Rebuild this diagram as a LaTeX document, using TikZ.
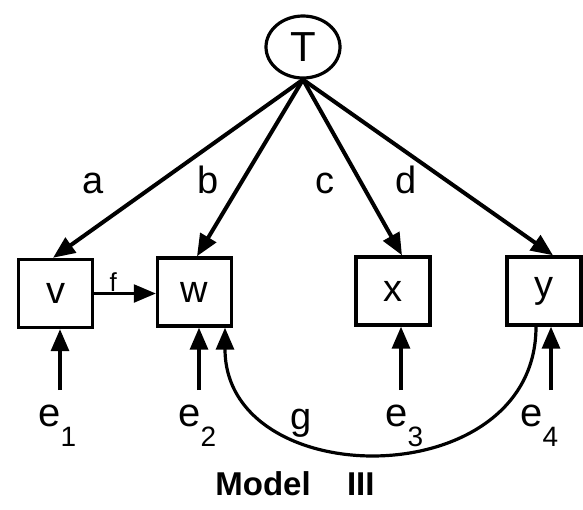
\documentclass[tikz,border=0pt]{standalone}
\usepackage{fontspec}
\setmainfont{Liberation Sans}
\usetikzlibrary{arrows.meta,shapes.geometric}

\tikzset{
  factor/.style={draw, ellipse, line width=1.6pt, minimum width=37pt, minimum height=31pt,
    inner sep=0pt, font=\fontsize{21}{21}\selectfont},
  var/.style={draw, line width=1.7pt, minimum width=37pt, minimum height=34pt,
    inner sep=0pt, font=\fontsize{19}{19}\selectfont},
  path/.style={line width=2pt, -{Triangle[length=11pt,width=9pt]}},
  lbl/.style={anchor=base, inner sep=0pt, font=\fontsize{19}{19}\selectfont},
  errlbl/.style={anchor=base west, inner sep=0pt, font=\fontsize{20}{20}\selectfont},
}
\newcommand{\errlab}[1]{e\raisebox{-0.5em}{\fontsize{14}{14}\selectfont #1}}

\begin{document}
\begin{tikzpicture}[x=0.5pt, y=-0.5pt]
    \useasboundingbox (0,0) rectangle (583,509);

    % Common factor
    \node[factor] (T) at (303,47) {T};

    % Observed variables
    \node[var] (v) at (55.5,293.5) {v};
    \node[var] (w) at (194.5,292) {w};
    \node[var] (x) at (393,291) {x};
    \node[var] (y) at (544,291) {y};

    % Loadings
    \draw[path] (T.south) -- ([xshift=-1.25pt]v.north);
    \draw[path] (T.south) -- ([xshift=1.25pt]w.north);
    \draw[path] (T.south) -- ([xshift=4.5pt]x.north);
    \draw[path] (T.south) -- ([xshift=4.5pt]y.north);
    \node[lbl] (a) at (93,193) {a};
    \node[lbl] (b) at (208,193) {b};
    \node[lbl] (c) at (325,193) {c};
    \node[lbl] (d) at (406,193) {d};

    % Direct path v -> w
    \draw[path, line width=1.2pt] (v.east) -- (v.east -| w.west)
        node[pos=0.31, anchor=south, inner sep=0.5pt, font=\fontsize{13}{13}\selectfont] (f) {f};

    % Residuals
    \coordinate (s1) at (60,390);
    \coordinate (s2) at (199,390);
    \coordinate (s3) at (401,390);
    \coordinate (s4) at (551,390);
    \draw[path, line width=1.6pt] (s1) -- (s1 |- v.south);
    \draw[path, line width=1.6pt] (s2) -- (s2 |- w.south);
    \draw[path, line width=1.6pt] (s3) -- (s3 |- x.south);
    \draw[path, line width=1.6pt] (s4) -- (s4 |- y.south);
    \node[errlbl] (e1) at (38,426) {\errlab{1}};
    \node[errlbl] (e2) at (178,426) {\errlab{2}};
    \node[errlbl] (e3) at (385,426) {\errlab{3}};
    \node[errlbl] (e4) at (520,426) {\errlab{4}};

    % Path y -> w
    \draw[path, line width=1.6pt] ([xshift=-4pt]y.south) .. controls +(0,169) and +(0,167) .. ([xshift=15.25pt]w.south);
    \node[lbl] (g) at (301,429) {g};

    \node[anchor=base west, inner sep=0pt, font=\bfseries\fontsize{16.5}{16.5}\selectfont] (title) at (215,495) {Model\hspace{1.1em}III};
\end{tikzpicture}
\end{document}
